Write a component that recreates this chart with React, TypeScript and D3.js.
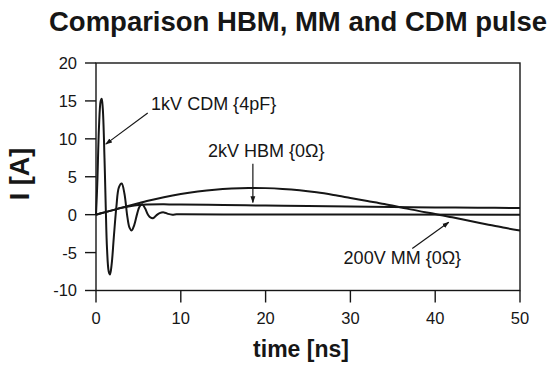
import React from "react";
import * as d3 from "d3";

// ---- data ----
const cdmTime = [0, 0.15, 0.35, 0.55, 0.67, 0.8, 1.0, 1.15, 1.3, 1.5, 1.65, 1.85, 2.1, 2.4, 2.7, 3.03, 3.35, 3.7, 3.95, 4.2, 4.5, 4.85, 5.15, 5.46, 5.8, 6.15, 6.45, 6.76, 7.1, 7.5, 8.0, 8.5, 9.0, 9.5, 10, 15, 50];
const cdmCurrent = [0, 4, 11.5, 15, 15.3, 14, 7.5, 1, -4.5, -7.5, -7.9, -6.5, -3, 1, 3.6, 4.1, 2.8, -0.3, -1.7, -2.08, -1.4, 0.1, 1.1, 1.36, 0.8, -0.05, -0.4, -0.45, -0.1, 0.2, 0.3, 0.1, 0.0, 0.05, 0.06, 0.03, 0.0];

const hbmTime = [0, 1, 2, 3, 4, 5, 6, 8, 10, 15, 20, 25, 30, 35, 40, 45, 50];
const hbmCurrent = [0, 0.3, 0.6, 0.9, 1.12, 1.27, 1.34, 1.36, 1.34, 1.28, 1.2, 1.13, 1.07, 1.01, 0.96, 0.92, 0.88];

const mmTime = [0, 1, 2, 3, 4, 5, 6, 8, 10, 12, 14, 16, 18, 20, 22, 24, 26, 28, 30, 32, 34, 36, 38, 40, 42, 44, 46, 48, 50];
const mmCurrent = [0, 0.3, 0.6, 0.9, 1.2, 1.5, 1.8, 2.3, 2.72, 3.05, 3.3, 3.45, 3.52, 3.5, 3.4, 3.22, 2.95, 2.6, 2.2, 1.8, 1.4, 0.95, 0.5, 0.1, -0.35, -0.8, -1.25, -1.7, -2.1];

const xTicks = [0, 10, 20, 30, 40, 50];
const yTicks = [-10, -5, 0, 5, 10, 15, 20];

const titleText = "Comparison HBM, MM and CDM pulse";
const xLabel = "time [ns]";
const yLabel = "I [A]";

// annotations: label text, label anchor (data coords), arrow from / to (data coords)
const annotations = [
  { text: "1kV CDM {4pF}", lx: 6.5, ly: 13.8, fx: 6.1, fy: 13.4, tx: 1.15, ty: 9.3 },
  { text: "2kV HBM {0\u03A9}", lx: 13.2, ly: 7.6, fx: 18.5, fy: 6.7, tx: 18.5, ty: 1.6 },
  { text: "200V MM {0\u03A9}", lx: 29.2, ly: -6.5, fx: 37.3, fy: -4.45, tx: 41.6, ty: -1.0 },
];

const W = 552;
const H = 368;
const left = 96;
const right = 520;
const top = 63;
const bottom = 290.5;
const ink = "#161616";
const font = "'Liberation Sans', Arial, Helvetica, sans-serif";

export default function App() {
  const x = d3.scaleLinear().domain([0, 50]).range([left, right]);
  const y = d3.scaleLinear().domain([-10, 20]).range([bottom, top]);

  const line = d3
    .line<[number, number]>()
    .x((d) => x(d[0]))
    .y((d) => y(d[1]))
    .curve(d3.curveCatmullRom.alpha(0.5));

  const series = [
    { t: cdmTime, v: cdmCurrent },
    { t: hbmTime, v: hbmCurrent },
    { t: mmTime, v: mmCurrent },
  ];

  return (
    <svg
      width={W}
      height={H}
      viewBox={`0 0 ${W} ${H}`}
      style={{ position: "absolute", left: 0, top: 0, background: "#fff" }}
    >
      <defs>
        <marker id="arr" viewBox="0 0 10 10" refX="9" refY="5" markerWidth="7" markerHeight="7" orient="auto-start-reverse" markerUnits="userSpaceOnUse">
          <path d="M0,1.5 L10,5 L0,8.5 z" fill={ink} />
        </marker>
      </defs>
      <rect x={0} y={0} width={W} height={H} fill="#fff" />
      <text x={298} y={31} textAnchor="middle" fontFamily={font} fontWeight="bold" fontSize={27.5} fill={ink}>
        {titleText}
      </text>

      {/* frame */}
      <rect x={left} y={top} width={right - left} height={bottom - top} fill="none" stroke={ink} strokeWidth={1.4} />

      {/* y ticks */}
      {yTicks.map((v) => (
        <g key={"y" + v}>
          <line x1={left - 11} x2={left} y1={y(v)} y2={y(v)} stroke={ink} strokeWidth={1.4} />
          <text x={77} y={y(v)} dy="0.36em" textAnchor="end" fontFamily={font} fontSize={16.5} fill={ink}>
            {v}
          </text>
        </g>
      ))}

      {/* x ticks */}
      {xTicks.map((v) => (
        <g key={"x" + v}>
          <line x1={x(v)} x2={x(v)} y1={bottom} y2={bottom + 12} stroke={ink} strokeWidth={1.4} />
          <text x={x(v)} y={324} textAnchor="middle" fontFamily={font} fontSize={16.5} fill={ink}>
            {v}
          </text>
        </g>
      ))}

      {/* axis titles */}
      <text x={301} y={357} textAnchor="middle" fontFamily={font} fontWeight="bold" fontSize={23} fill={ink}>
        {xLabel}
      </text>
      <text
        transform={`translate(29,174) rotate(-90)`}
        textAnchor="middle"
        fontFamily={font}
        fontWeight="bold"
        fontSize={27}
        fill={ink}
      >
        {yLabel}
      </text>

      {/* curves */}
      {series.map((s, i) => (
        <path
          key={i}
          d={line(s.t.map((t, k) => [t, s.v[k]] as [number, number])) || ""}
          fill="none"
          stroke={ink}
          strokeWidth={2}
          strokeLinejoin="round"
        />
      ))}

      {/* annotations */}
      {annotations.map((a, i) => (
        <g key={"a" + i}>
          <text x={x(a.lx)} y={y(a.ly)} fontFamily={font} fontSize={18} fill={ink}>
            {a.text}
          </text>
          <line x1={x(a.fx)} y1={y(a.fy)} x2={x(a.tx)} y2={y(a.ty)} stroke={ink} strokeWidth={1.2} markerEnd="url(#arr)" />
        </g>
      ))}
    </svg>
  );
}
